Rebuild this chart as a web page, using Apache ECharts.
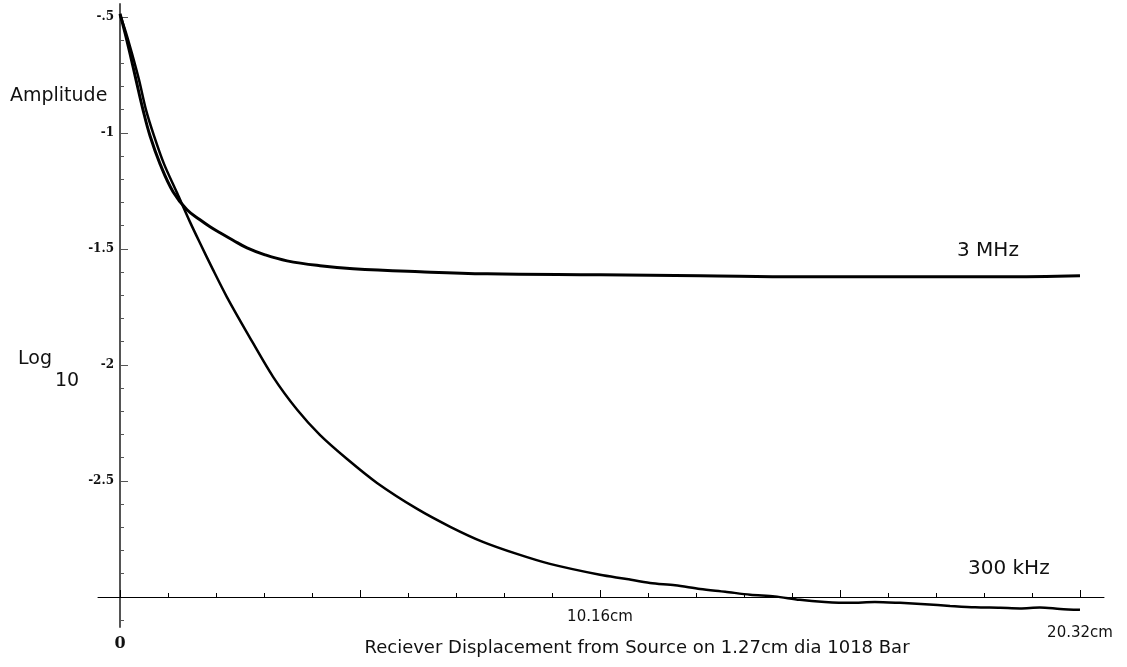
<!DOCTYPE html>
<html>
<head>
<meta charset="utf-8">
<title>Amplitude vs receiver displacement</title>
<script src="https://cdn.jsdelivr.net/npm/echarts@6/dist/echarts.min.js"></script>
<style>
  html, body { margin: 0; padding: 0; background: #fff; }
  #chart { width: 1127px; height: 667px; }
</style>
</head>
<body>
<div id="chart"></div>
<script>
// receiver displacement (cm) and log10 amplitude
const dist3MHz = [0, 0.106, 0.212, 0.339, 0.487, 0.635, 0.847, 1.122, 1.418, 1.693, 1.905,
  2.117, 2.392, 2.688, 3.069, 3.535, 4.233, 4.932, 6.35, 7.77, 10.16, 12.28, 14.39, 16.51,
  18.63, 20.32];
const amp3MHz = [-0.487, -0.569, -0.659, -0.772, -0.901, -1.013, -1.134, -1.254, -1.332,
  -1.375, -1.405, -1.431, -1.463, -1.496, -1.526, -1.552, -1.573, -1.586, -1.599, -1.608,
  -1.612, -1.616, -1.621, -1.621, -1.621, -1.616];

const dist300k = [0, 0.127, 0.254, 0.402, 0.550, 0.720, 0.931, 1.207, 1.48, 1.69, 1.97,
  2.26, 2.69, 3.24, 3.75, 4.23, 4.80, 5.44, 6.29, 6.99, 7.68, 8.40, 9.10, 10.16, 10.69,
  11.22, 11.75, 12.28, 12.81, 13.34, 13.86, 14.39, 14.92, 15.45, 15.98, 16.51, 17.04,
  17.57, 18.10, 18.63, 19.05, 19.47, 19.90, 20.32];
const amp300k = [-0.491, -0.569, -0.659, -0.772, -0.901, -1.013, -1.134, -1.259, -1.384,
  -1.474, -1.591, -1.707, -1.862, -2.052, -2.194, -2.302, -2.405, -2.509, -2.621, -2.698,
  -2.763, -2.815, -2.858, -2.905, -2.922, -2.940, -2.950, -2.966, -2.978, -2.991, -2.998,
  -3.013, -3.022, -3.026, -3.022, -3.026, -3.032, -3.039, -3.045, -3.047, -3.050, -3.046,
  -3.052, -3.056];

// axis ticks and labels
const xMajorTicks = [0, 5.08, 10.16, 15.24, 20.32];
const xMinorTicks = [1.016, 2.032, 3.048, 4.064, 6.096, 7.112, 8.128, 9.144,
  11.176, 12.192, 13.208, 14.224, 16.256, 17.272, 18.288, 19.304];
const xLabelValues = [0, 10.16, 20.32];
const yMajorTicks = [-2.5, -2, -1.5, -1, -0.5];
const yMinorTicks = [-3.1, -2.9, -2.8, -2.7, -2.6, -2.4, -2.3, -2.2, -2.1, -1.9, -1.8,
  -1.7, -1.6, -1.4, -1.3, -1.2, -1.1, -0.9, -0.8, -0.7, -0.6];

const sans = 'DejaVu Sans';
const serif = 'DejaVu Serif';

const chart = echarts.init(document.getElementById('chart'));

const xBase = {
  type: 'value',
  position: 'bottom',
  min: -0.466,
  max: 20.828,
  offset: -30,
  splitLine: { show: false }
};
const yBase = {
  type: 'value',
  position: 'left',
  min: -3.13,
  max: -0.445,
  splitLine: { show: false }
};

chart.setOption({
  animation: false,
  backgroundColor: '#fff',
  grid: { left: 98, right: 23, top: 4, bottom: 40, outerBoundsMode: 'none', containLabel: false },
  xAxis: [
    Object.assign({}, xBase, {
      name: 'Reciever Displacement from Source on 1.27cm dia 1018 Bar',
      nameLocation: 'middle',
      nameGap: 42,
      nameMoveOverlap: false,
      nameTextStyle: { fontFamily: sans, fontSize: 18, color: '#111', padding: [0, 0, 0, 72] },
      axisLine: { onZero: false, lineStyle: { color: '#000', width: 1 } },
      axisTick: { inside: true, length: 7, customValues: xMajorTicks, lineStyle: { color: '#000' } },
      axisLabel: {
        customValues: xLabelValues,
        margin: 13,
        formatter: (v) => {
          if (v === 0) return '{zero|0}';
          if (v > 20) return '{end|20.32cm}';
          return '{mid|10.16cm}';
        },
        rich: {
          zero: { fontFamily: serif, fontWeight: 'bold', fontSize: 16, color: '#111', padding: [26, 0, 0, 0] },
          mid: { fontFamily: sans, fontSize: 15, color: '#111' },
          end: { fontFamily: sans, fontSize: 15, color: '#111', padding: [16, 0, 0, 0] }
        }
      }
    }),
    Object.assign({}, xBase, {
      axisLine: { show: false, onZero: false },
      axisTick: { inside: true, length: 4, customValues: xMinorTicks, lineStyle: { color: '#000' } },
      axisLabel: { show: false }
    })
  ],
  yAxis: [
    Object.assign({}, yBase, {
      axisLine: { onZero: true, onZeroAxisIndex: 0, lineStyle: { color: '#555', width: 2 } },
      axisTick: { inside: true, length: 8, customValues: yMajorTicks, lineStyle: { color: '#555' } },
      axisLabel: {
        customValues: yMajorTicks,
        margin: -16,
        fontFamily: serif,
        fontWeight: 'bold',
        fontSize: 12,
        color: '#111',
        formatter: (v) => String(v).replace('0.', '.')
      }
    }),
    Object.assign({}, yBase, {
      axisLine: { show: false, onZero: true, onZeroAxisIndex: 0 },
      axisTick: { inside: true, length: 4, customValues: yMinorTicks, lineStyle: { color: '#555' } },
      axisLabel: { show: false }
    })
  ],
  graphic: [
    { type: 'text', left: 10, top: 87, style: { text: 'Amplitude', font: '19px "DejaVu Sans"', fill: '#111' } },
    { type: 'text', left: 18, top: 350, style: { text: 'Log', font: '19px "DejaVu Sans"', fill: '#111' } },
    { type: 'text', left: 55, top: 372, style: { text: '10', font: '19px "DejaVu Sans"', fill: '#111' } },
    { type: 'text', left: 957, top: 241, style: { text: '3 MHz', font: '20px "DejaVu Sans"', fill: '#111' } },
    { type: 'text', left: 968, top: 559, style: { text: '300 kHz', font: '20px "DejaVu Sans"', fill: '#111' } }
  ],
  series: [
    {
      name: '3 MHz',
      type: 'line',
      xAxisIndex: 0,
      yAxisIndex: 0,
      showSymbol: false,
      smooth: 0.4,
      lineStyle: { color: '#000', width: 3 },
      data: dist3MHz.map((d, i) => [d, amp3MHz[i]])
    },
    {
      name: '300 kHz',
      type: 'line',
      xAxisIndex: 0,
      yAxisIndex: 0,
      showSymbol: false,
      smooth: 0.3,
      lineStyle: { color: '#000', width: 2.5 },
      data: dist300k.map((d, i) => [d, amp300k[i]])
    }
  ]
});

window.addEventListener('resize', () => chart.resize());
</script>
</body>
</html>
